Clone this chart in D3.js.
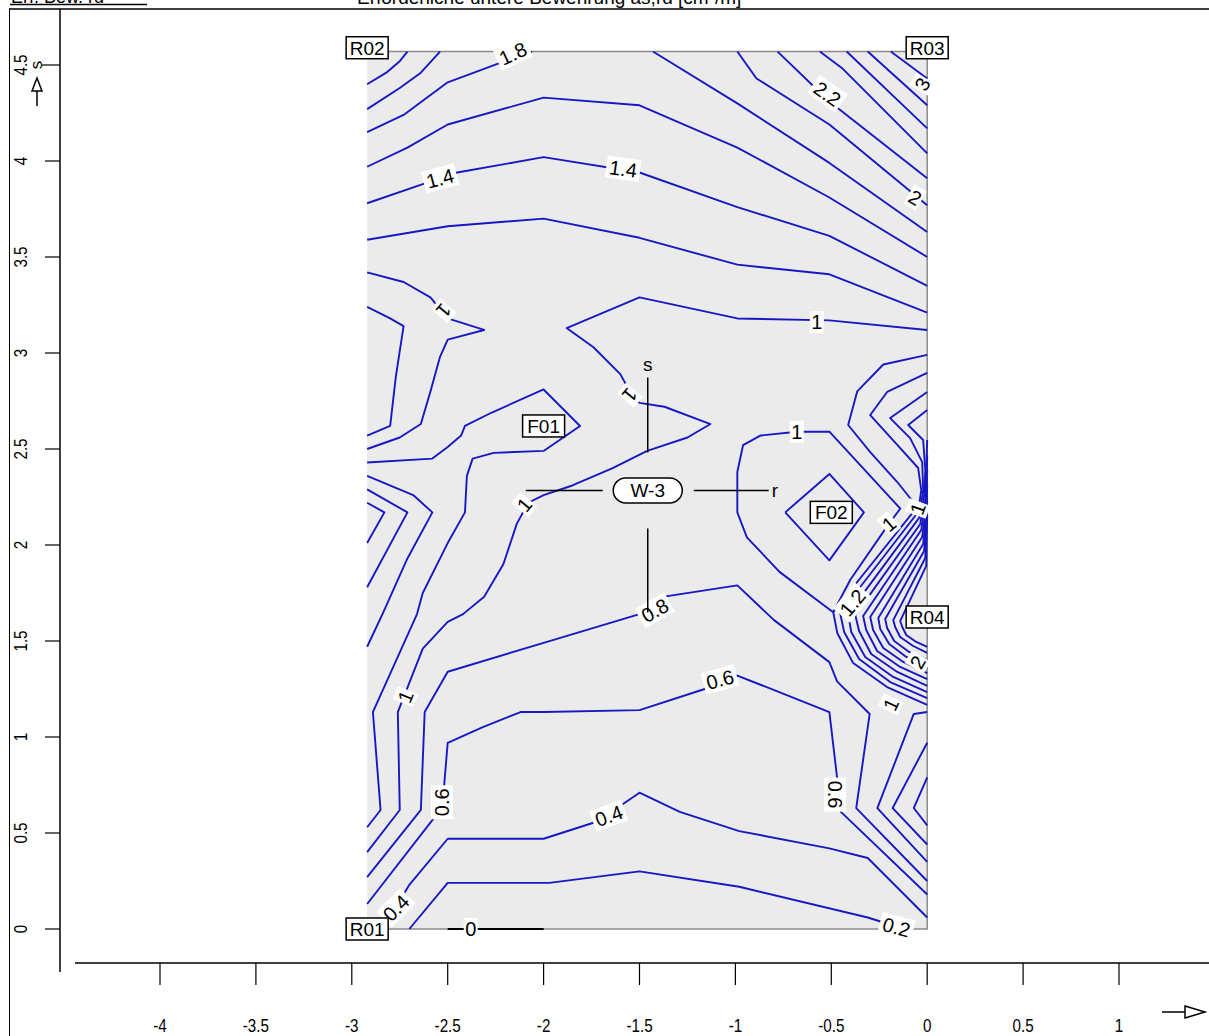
<!DOCTYPE html>
<html><head><meta charset="utf-8">
<script src="https://cdn.jsdelivr.net/npm/d3@7"></script>
<style>body{margin:0;background:#fff}svg{display:block}</style>
</head><body>
<svg id="chart" width="1209" height="1036"></svg>
<script>
// axis ticks
const xTicks = [-4, -3.5, -3, -2.5, -2, -1.5, -1, -0.5, 0, 0.5, 1];
const yTicks = [0, 0.5, 1, 1.5, 2, 2.5, 3, 3.5, 4, 4.5];
// slab outline (r, s)
const slabR = [-2.92, 0];
const slabS = [0, 4.57];

// isolines of as,rd [cm²/m], points as [r, s]
const iso22L = [[-2.92,4.40],[-2.82,4.46],[-2.75,4.52],[-2.71,4.57]];
const iso20L = [[-2.92,4.27],[-2.75,4.38],[-2.64,4.46],[-2.54,4.57]];
const iso18L = [[-2.92,4.15],[-2.73,4.24],[-2.50,4.41],[-2.23,4.51],[-2.06,4.57]];
const iso18R = [[-1.43,4.57],[-0.99,4.30],[-0.51,3.99],[0,3.63]];
const iso20R = [[-0.99,4.57],[-0.89,4.43],[-0.51,4.19],[0,3.77]];
const iso22R = [[-0.78,4.57],[-0.51,4.31],[0,3.91]];
const iso24R = [[-0.56,4.57],[-0.44,4.48],[0,4.04]];
const iso26R = [[-0.42,4.57],[0,4.17]];
const iso28R = [[-0.31,4.57],[0,4.29]];
const iso30R = [[-0.19,4.57],[0,4.43]];
const iso16 = [[-2.92,3.97],[-2.71,4.07],[-2.50,4.19],[-2.00,4.33],[-1.50,4.29],[-0.99,4.07],[-0.51,3.81],[0,3.50]];
const iso14 = [[-2.92,3.78],[-2.63,3.88],[-2.45,3.94],[-2.00,4.02],[-1.50,3.94],[-0.99,3.76],[-0.51,3.61],[0,3.35]];
const iso12 = [[-2.92,3.59],[-2.50,3.66],[-2.00,3.70],[-1.50,3.60],[-0.99,3.46],[-0.51,3.41],[0,3.21]];
const iso10T = [[0,3.12],[-0.51,3.17],[-0.99,3.18],[-1.50,3.29],[-1.88,3.13],[-1.74,3.03],[-1.60,2.89],[-1.54,2.78],
  [-1.50,2.74],[-1.37,2.72],[-1.13,2.63],[-1.25,2.56],[-1.46,2.49],[-1.64,2.40],[-1.85,2.31],[-2.00,2.26],[-2.08,2.22],
  [-2.14,2.11],[-2.21,1.90],[-2.31,1.73],[-2.42,1.64],[-2.50,1.60],[-2.63,1.46],[-2.76,1.13],[-2.75,0.62],[-2.92,0.40]];
const iso10L = [[-2.92,3.42],[-2.73,3.37],[-2.59,3.29],[-2.50,3.18],[-2.31,3.12],[-2.50,3.07],[-2.54,2.98],[-2.59,2.80],[-2.64,2.63],[-2.75,2.56],[-2.92,2.50]];
const iso12L = [[-2.92,3.24],[-2.80,3.18],[-2.73,3.14],[-2.77,2.88],[-2.80,2.62],[-2.92,2.57]];
const iso12F = [[-2.92,2.43],[-2.58,2.45],[-2.50,2.51],[-2.43,2.57],[-2.41,2.62],[-2.27,2.69],[-2.00,2.81],[-1.81,2.62],
  [-2.00,2.49],[-2.26,2.48],[-2.37,2.45],[-2.40,2.36],[-2.41,2.17],[-2.50,2.01],[-2.63,1.75],[-2.66,1.64],[-2.89,1.13],[-2.85,0.62],[-2.92,0.53]];
const iso14C = [[-2.92,2.36],[-2.68,2.26],[-2.58,2.17],[-2.71,1.93],[-2.84,1.64],[-2.92,1.47]];
const iso16C = [[-2.92,2.29],[-2.71,2.17],[-2.92,1.78]];
const iso18C = [[-2.92,2.22],[-2.83,2.17],[-2.92,2.01]];
const iso08 = [[-2.92,0.27],[-2.64,0.62],[-2.62,1.13],[-2.50,1.34],[-2.00,1.49],[-1.50,1.64],[-1.38,1.73],[-0.99,1.79],
  [-0.80,1.61],[-0.51,1.39],[-0.47,1.29],[-0.30,1.12],[-0.37,0.63],[0,0.25]];
const iso06 = [[-2.92,0.13],[-2.57,0.58],[-2.53,0.66],[-2.52,0.73],[-2.50,0.97],[-2.32,1.05],[-2.12,1.13],[-2.00,1.13],
  [-1.50,1.14],[-1.16,1.25],[-0.99,1.32],[-0.51,1.13],[-0.47,0.79],[-0.45,0.61],[0,0.18]];
const iso04 = [[-2.85,0.0],[-2.76,0.13],[-2.70,0.23],[-2.50,0.47],[-2.00,0.47],[-1.72,0.56],[-1.50,0.71],[-1.29,0.61],
  [-0.98,0.51],[-0.51,0.42],[-0.31,0.37],[0,0.06]];
const iso02 = [[-2.70,0.0],[-2.50,0.24],[-1.97,0.24],[-1.50,0.30],[-0.98,0.22],[-0.31,0.06],[-0.12,0.0]];
const iso00 = [[-2.50,0.0],[-2.00,0.0]];
const isoF02i = [[-0.74,2.17],[-0.51,2.37],[-0.33,2.17],[-0.51,1.92],[-0.74,2.17]];
const isoF02o = [[-0.68,2.59],[-0.51,2.59],[-0.14,2.19],[-0.20,2.11],[-0.40,1.82],[-0.49,1.65],[-0.77,1.86],
  [-0.94,2.04],[-0.99,2.17],[-0.99,2.38],[-0.96,2.52],[-0.87,2.57],[-0.68,2.59]];
// nested isolines wrapping the right edge around R04
const isoC0 = [[0,2.99],[-0.229,2.94],[-0.365,2.80],[-0.412,2.625],[-0.297,2.484],[-0.156,2.328],[-0.052,2.198],
  [-0.49,1.651],[-0.469,1.542],[-0.386,1.385],[-0.209,1.26],[0,1.167]];
const isoC1 = [[0,2.896],[-0.209,2.797],[-0.297,2.677],[-0.156,2.521],[-0.047,2.401],[-0.031,2.286],[-0.047,2.172],
  [-0.454,1.646],[-0.433,1.547],[-0.355,1.406],[-0.193,1.286],[0,1.203]];
const isoC2 = [[0,2.797],[-0.193,2.661],[-0.089,2.557],[-0.026,2.432],[-0.021,2.286],[-0.042,2.141],
  [-0.412,1.641],[-0.396,1.547],[-0.323,1.417],[-0.177,1.313],[0,1.234]];
const isoC3 = [[0,2.703],[-0.099,2.625],[-0.021,2.547],[-0.010,2.391],[-0.016,2.26],[-0.036,2.109],
  [-0.375,1.635],[-0.355,1.552],[-0.292,1.432],[-0.156,1.339],[0,1.266]];
const isoC4 = [[0,2.547],[-0.005,2.391],[-0.010,2.234],[-0.031,2.078],[-0.334,1.630],[-0.318,1.557],[-0.261,1.448],[-0.141,1.365],[0,1.302]];
const isoC5 = [[0,2.469],[-0.005,2.208],[-0.026,2.042],[-0.297,1.625],[-0.282,1.557],[-0.229,1.464],[-0.125,1.391],[0,1.333]];
const isoC6 = [[0,2.391],[-0.005,2.172],[-0.021,2.005],[-0.255,1.620],[-0.245,1.563],[-0.198,1.484],[-0.109,1.417],[0,1.370]];
const isoC7 = [[0,2.313],[-0.005,2.13],[-0.016,1.969],[-0.219,1.615],[-0.209,1.568],[-0.172,1.500],[-0.094,1.443],[0,1.401]];
const isoC8 = [[0,2.234],[-0.005,2.089],[-0.010,1.932],[-0.177,1.609],[-0.167,1.573],[-0.141,1.521],[-0.073,1.474],[0,1.438]];
const isoC9 = [[0,2.156],[-0.005,1.891],[-0.141,1.604],[-0.130,1.573],[-0.109,1.531],[-0.057,1.495],[0,1.469]];
const isoV2 = [[0,1.13],[-0.07,1.12],[-0.26,0.63],[0,0.35]];
const isoV3 = [[0,0.97],[-0.18,0.63],[0,0.44]];
const isoV4 = [[0,0.79],[-0.07,0.63],[0,0.54]];

const isolines = [iso22L, iso20L, iso18L, iso18R, iso20R, iso22R, iso24R, iso26R, iso28R, iso30R,
  iso16, iso14, iso12, iso10T, iso10L, iso12L, iso12F, iso14C, iso16C, iso18C,
  iso08, iso06, iso04, iso02, isoF02i, isoF02o,
  isoC0, isoC1, isoC2, isoC3, isoC4, isoC5, isoC6, isoC7, isoC8, isoC9, isoV2, isoV3, isoV4];

// isoline labels: text, r, s, rotation
const isoLabelText = ["1.8","1.4","1.4","2.2","3","2","1","1","1","1","1","1","1","1.2","0.8","0.6","2","1","1","0.6","0.6","0.4","0.4","0.2","0"];
const isoLabelR = [-2.16,-2.54,-1.585,-0.52,-0.026,-0.063,-0.575,-2.52,-1.55,-2.10,-0.68,-0.20,-0.05,-0.39,-1.42,-1.08,-0.05,-0.19,-2.72,-2.53,-0.48,-1.66,-2.77,-0.16,-2.38];
const isoLabelS = [4.56,3.91,3.96,4.35,4.40,3.81,3.16,3.22,2.78,2.21,2.59,2.11,2.19,1.70,1.66,1.30,1.39,1.17,1.21,0.66,0.70,0.59,0.11,0.01,0.0];
const isoLabelAngle = [-25,-15,8,35,-60,30,0,130,130,-50,0,-40,-70,-50,-30,-15,-60,-65,-68,-90,90,-20,-45,15,0];

// point markers
const boxNames = ["R01","R02","R03","R04","F01","F02"];
const boxR = [-2.92,-2.92,0,0,-2.00,-0.50];
const boxS = [0,4.59,4.59,1.625,2.62,2.17];
const wallName = "W-3";
const wallR = -1.457, wallS = 2.284;

const svg = d3.select("#chart");
const x = d3.scaleLinear().domain([-4, 1]).range([160, 1119]);
const y = d3.scaleLinear().domain([0, 4.5]).range([929, 65]);
const FONT = "'Liberation Sans', Arial, sans-serif";

// header
svg.append("text").attr("x", 11).attr("y", 3).attr("font-family", FONT).attr("font-size", 18)
  .text("Erf. Bew. rd");
svg.append("line").attr("x1", 10).attr("x2", 147).attr("y1", 4.5).attr("y2", 4.5).attr("stroke", "#000").attr("stroke-width", 1.5);
svg.append("text").attr("x", 357).attr("y", 4).attr("font-family", FONT).attr("font-size", 19)
  .text("Erforderliche untere Bewehrung as,rd [cm²/m]");
svg.append("line").attr("x1", 9).attr("x2", 1209).attr("y1", 9).attr("y2", 9).attr("stroke", "#000").attr("stroke-width", 1.5);
svg.append("line").attr("x1", 9.5).attr("x2", 9.5).attr("y1", 9).attr("y2", 1036).attr("stroke", "#000").attr("stroke-width", 1);

// slab
const g = svg.append("g");
g.append("rect").attr("x", x(slabR[0])).attr("y", y(slabS[1]))
  .attr("width", x(slabR[1]) - x(slabR[0])).attr("height", y(slabS[0]) - y(slabS[1]))
  .attr("fill", "#ebebeb");
g.append("path").attr("d", `M${x(slabR[0])},${y(slabS[1])}H${x(slabR[1])}V${y(slabS[0])}H${x(slabR[0])}`)
  .attr("fill", "none").attr("stroke", "#8a8a8a").attr("stroke-width", 1.5);

// isolines
const line = d3.line().x(d => x(d[0])).y(d => y(d[1]));
g.selectAll("path.iso").data(isolines).join("path").attr("class", "iso")
  .attr("d", line).attr("fill", "none").attr("stroke", "#1818c2").attr("stroke-width", 1.9)
  .attr("stroke-linejoin", "round");
g.append("path").attr("d", line(iso00)).attr("stroke", "#000").attr("stroke-width", 2).attr("fill", "none");

// isoline labels
isoLabelText.forEach((t, i) => {
  const lg = g.append("g").attr("transform", `translate(${x(isoLabelR[i])},${y(isoLabelS[i])}) rotate(${isoLabelAngle[i]})`);
  const w = t.length * 10 + 4;
  lg.append("rect").attr("x", -w / 2).attr("y", -11).attr("width", w).attr("height", 22).attr("fill", "#fff");
  lg.append("text").attr("text-anchor", "middle").attr("dy", "0.36em").attr("font-family", FONT)
    .attr("font-size", 20).text(t);
});

// wall crosshair
const wx = x(wallR), wy = y(wallS);
const cross = [[-122, 0, -45, 0], [46, 0, 121, 0], [0, -113, 0, -38], [0, 38, 0, 122]];
cross.forEach(c => g.append("line").attr("x1", wx + c[0]).attr("y1", wy + c[1]).attr("x2", wx + c[2]).attr("y2", wy + c[3])
  .attr("stroke", "#000").attr("stroke-width", 1.5));
g.append("text").attr("x", wx + 124).attr("y", wy).attr("dy", "0.36em").attr("font-family", FONT).attr("font-size", 19).text("r");
g.append("text").attr("x", wx).attr("y", wy - 119).attr("text-anchor", "middle").attr("font-family", FONT).attr("font-size", 19).text("s");
g.append("rect").attr("x", wx - 34.5).attr("y", wy - 12.5).attr("width", 69).attr("height", 25).attr("rx", 12.5)
  .attr("fill", "#fff").attr("stroke", "#000").attr("stroke-width", 1.5);
g.append("text").attr("x", wx).attr("y", wy).attr("dy", "0.36em").attr("text-anchor", "middle")
  .attr("font-family", FONT).attr("font-size", 19).text(wallName);

// point boxes
boxNames.forEach((n, i) => {
  const bx = x(boxR[i]), by = y(boxS[i]);
  g.append("rect").attr("x", bx - 21).attr("y", by - 11).attr("width", 42).attr("height", 22)
    .attr("fill", "#fff").attr("stroke", "#000").attr("stroke-width", 1.5);
  g.append("text").attr("x", bx).attr("y", by).attr("dy", "0.36em").attr("text-anchor", "middle")
    .attr("font-family", FONT).attr("font-size", 19).text(n);
});

// y axis
svg.append("line").attr("x1", 60).attr("x2", 60).attr("y1", 9).attr("y2", 972).attr("stroke", "#000").attr("stroke-width", 1.5);
yTicks.forEach(v => {
  svg.append("line").attr("x1", v === 4.5 ? 42 : 45).attr("x2", 60).attr("y1", y(v)).attr("y2", y(v)).attr("stroke", "#000").attr("stroke-width", 1.2);
  svg.append("text").attr("transform", `translate(20,${y(v)}) rotate(-90) scale(0.8,1)`).attr("text-anchor", "middle").attr("dy", "0.36em")
    .attr("font-family", FONT).attr("font-size", 19).text(v);
});
svg.append("text").attr("transform", `translate(36,${y(4.5)}) rotate(-90)`).attr("text-anchor", "middle").attr("dy", "0.36em")
  .attr("font-family", FONT).attr("font-size", 17).text("s");
svg.append("path").attr("d", "M37,106V91M37,78L32,91H42Z").attr("fill", "#fff").attr("stroke", "#000").attr("stroke-width", 1.5);

// x axis
svg.append("line").attr("x1", 75).attr("x2", 1209).attr("y1", 963).attr("y2", 963).attr("stroke", "#000").attr("stroke-width", 1.5);
xTicks.forEach(v => {
  svg.append("line").attr("x1", x(v)).attr("x2", x(v)).attr("y1", 963).attr("y2", 985).attr("stroke", "#000").attr("stroke-width", 1.2);
  svg.append("text").attr("transform", `translate(${x(v)},1025) scale(0.8,1)`).attr("dy", "0.36em").attr("text-anchor", "middle")
    .attr("font-family", FONT).attr("font-size", 19).text(v);
});
svg.append("path").attr("d", "M1162,1012H1185M1185,1006L1205,1012L1185,1018Z").attr("fill", "#fff").attr("stroke", "#000").attr("stroke-width", 1.5);
</script>
</body></html>
